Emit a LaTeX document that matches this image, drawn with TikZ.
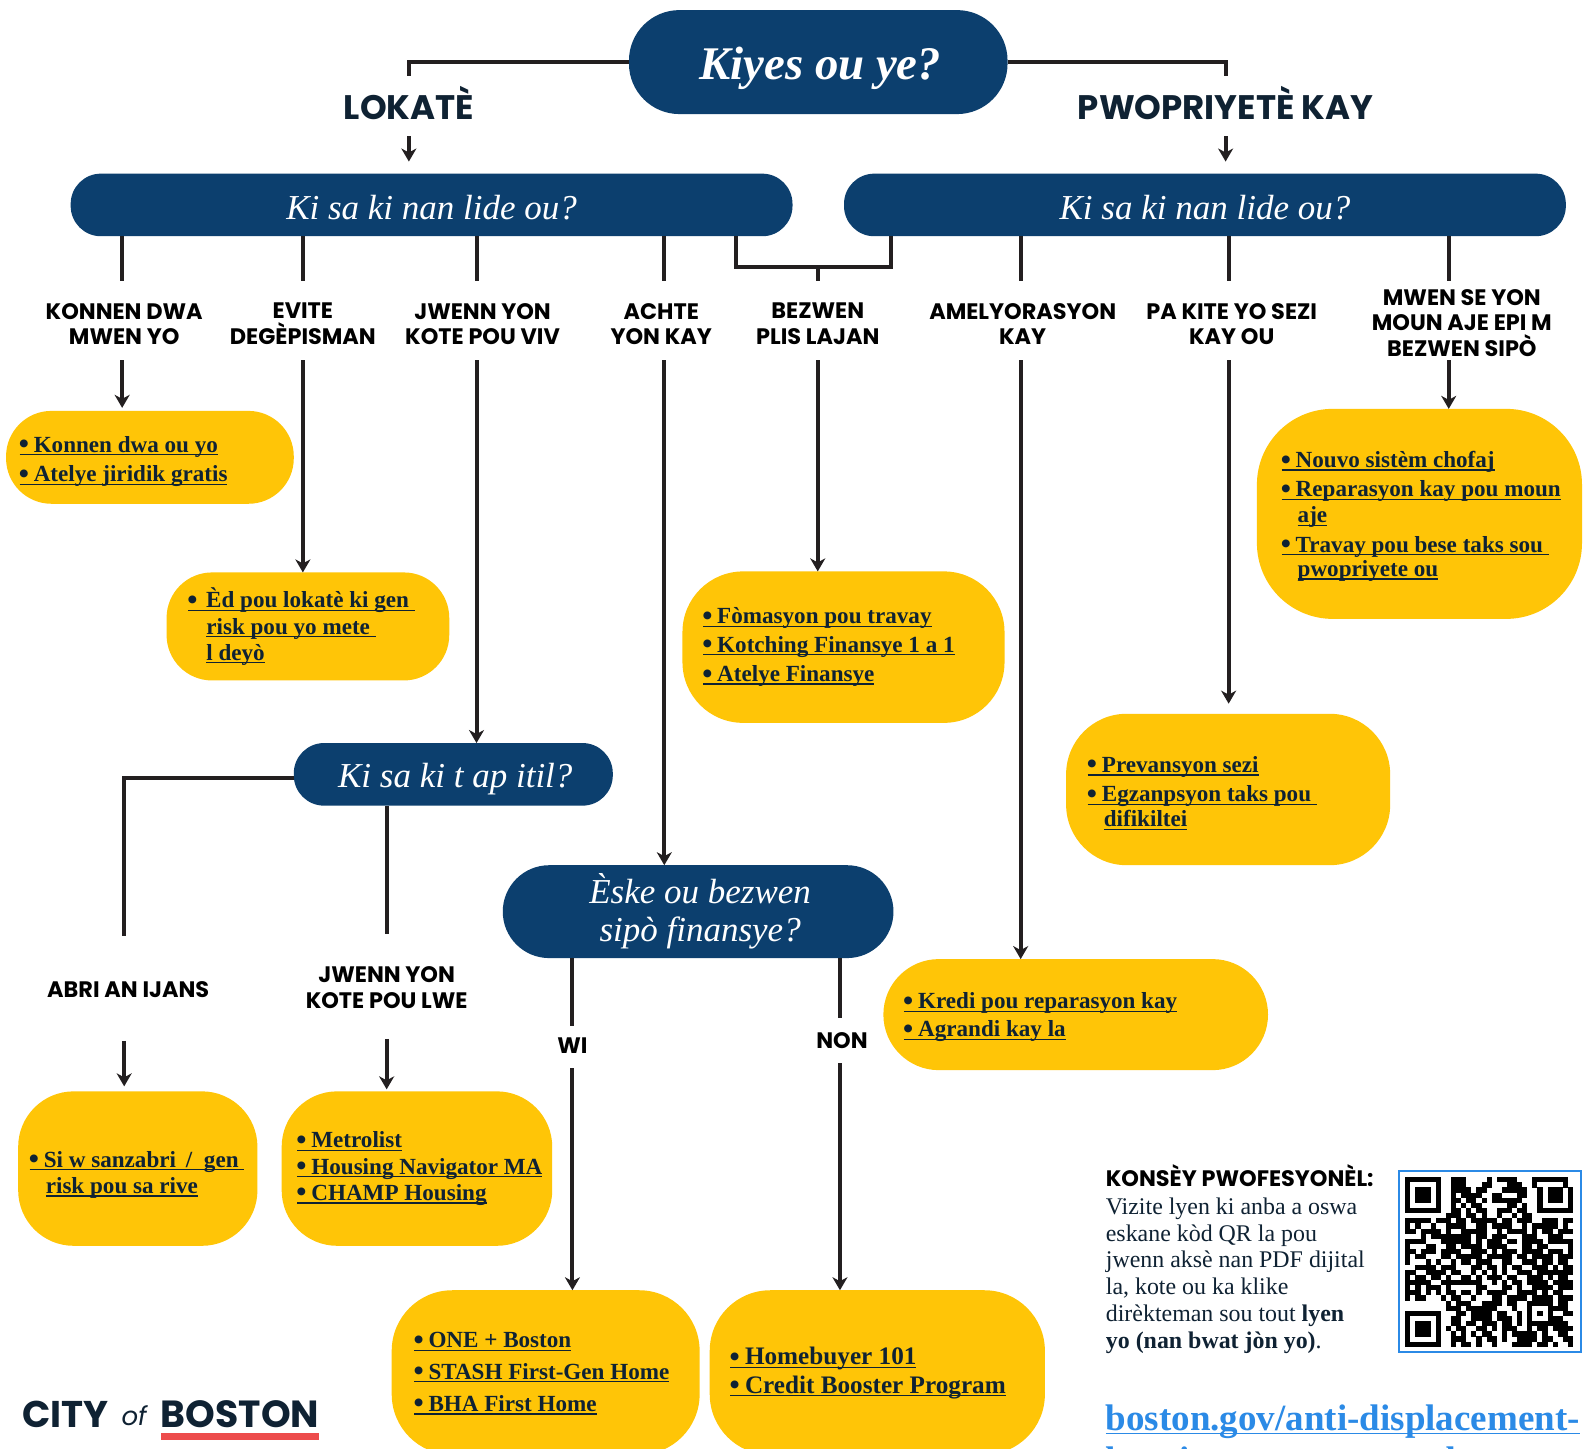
\documentclass[tikz,border=0pt]{standalone}
\usepackage{fontspec}
\setmainfont{Liberation Serif}
\newfontfamily\labf{Poppins}
\usetikzlibrary{arrows.meta}
\definecolor{navy}{HTML}{0C3F6E}
\definecolor{gold}{HTML}{FFC507}
\definecolor{ink}{HTML}{0F2233}
\definecolor{wire}{HTML}{231F20}
\definecolor{linkblue}{HTML}{2B8AE6}
\definecolor{logored}{HTML}{ED4C4C}
\newcommand\ulx[1]{\leavevmode\setbox0=\hbox{#1}\rlap{\rule[-1.6pt]{\wd0}{0.6pt}}\box0}
\newcommand\bigbul{\makebox[4.2pt][l]{\fontsize{14.5pt}{14.5pt}\selectfont\raisebox{-0.8pt}[0pt][0pt]{\kern-0.4pt\textbullet}}}
\newcommand\bul[1]{\ulx{\bigbul\ #1}}
\newcommand\low[2]{\raisebox{-#1}[0pt][0pt]{#2}}
\tikzset{
  x=0.5048pt,y=-0.5048pt,
  wireline/.style={draw=wire,line width=2pt},
  arr/.style={wireline,-{Stealth[length=6.5pt,width=7.5pt,inset=2pt]}},
  navybox/.style={fill=navy,text=white,align=center,inner sep=0pt,outer sep=0pt,font=\itshape\fontsize{17.5pt}{19pt}\selectfont},
  goldbox/.style={fill=gold,inner sep=0pt,outer sep=0pt},
  lab/.style={text=black,align=center,inner sep=0pt,font=\labf\bfseries\fontsize{11.2pt}{12.9pt}\selectfont},
  biglab/.style={text=ink,inner sep=0pt,font=\labf\bfseries\fontsize{17pt}{18pt}\selectfont},
  item/.style={anchor=base west,text=ink,inner sep=0pt,font=\bfseries\fontsize{11.55pt}{13pt}\selectfont},
  itemb/.style={item,font=\bfseries\fontsize{12.6pt}{13pt}\selectfont},
}
\newcommand\bx[8]{%
  \pgfmathsetmacro\cxx{(#3+#5)/2}\pgfmathsetmacro\cyy{(#4+#6)/2}%
  \pgfmathsetmacro\wdd{(#5-#3)*0.5048}\pgfmathsetmacro\htt{(#6-#4)*0.5048}%
  \pgfmathsetmacro\rdd{#7*0.5048}%
  \node[#1,minimum width=\wdd pt,minimum height=\htt pt,rounded corners=\rdd pt] (#2) at (\cxx,\cyy) {#8};}
\newcount\qx \newcount\qy
\def\qrline#1{\qx=0 \qrchar#1\relax\advance\qy by 1 }
\def\qrchar#1{\ifx#1\relax\else\ifx#1X\fill[black] (1392+\the\qx*5.03,1166+\the\qy*5.09) rectangle ++(5.1,5.15);\fi\advance\qx by 1 \expandafter\qrchar\fi}
\begin{document}
\begin{tikzpicture}
\useasboundingbox (0,0) rectangle (1568,1434.3);
\fill[white] (0,0) rectangle (1568,1434.3);
% navy boxes
\bx{navybox}{top}{623}{10}{998}{113}{50}{\low{8.5pt}{\hspace{2pt}\bfseries\fontsize{23.4pt}{25pt}\selectfont Kiyes ou ye?}}
\bx{navybox}{barL}{70}{172}{785}{234}{30}{\low{7.2pt}{Ki sa ki nan lide ou?}}
\bx{navybox}{barR}{836}{172}{1551}{234}{30}{\low{7.2pt}{Ki sa ki nan lide ou?}}
\bx{navybox}{itil}{291}{736}{607}{798}{30}{\low{6.5pt}{\hspace{2pt}Ki sa ki t ap itil?}}
\bx{navybox}{eske}{498}{857}{885}{949}{46}{\hspace{2pt}Èske ou bezwen\\\hspace{2pt}sipò finansye?}
% gold boxes
\bx{goldbox}{yA}{6}{407}{291}{499}{45}{}
\bx{goldbox}{yB}{165}{567}{445}{674}{45}{}
\bx{goldbox}{yC}{1245}{405}{1567}{613}{75}{}
\bx{goldbox}{yD}{676}{566}{995}{716}{60}{}
\bx{goldbox}{yE}{1056}{707}{1377}{857}{60}{}
\bx{goldbox}{yF}{875}{950}{1256}{1060}{55}{}
\bx{goldbox}{yG}{18}{1081}{255}{1234}{55}{}
\bx{goldbox}{yH}{279}{1081}{547}{1234}{55}{}
\bx{goldbox}{yI}{388}{1278}{693}{1441}{60}{}
\bx{goldbox}{yJ}{703}{1278}{1035}{1441}{60}{}
% headline labels
\node[biglab] (lok) at (405,102) {LOKATÈ};
\node[biglab] (pwo) at (1214,102) {PWOPRIYETÈ KAY};
\coordinate (lokT) at (405,75);
\coordinate (pwoT) at (1214,75);
\coordinate (lokB) at (405,135);
\coordinate (pwoB) at (1214,135);
\draw[wireline] (top.west) -| (lokT);
\draw[wireline] (top.east) -| (pwoT);
\draw[arr] (lokB) -- (405,160);
\draw[arr] (pwoB) -- (1214,160);
% option labels
\node[lab] (l1) at (123,321) {KONNEN DWA\\MWEN YO};
\node[lab] (l2) at (300,321) {EVITE\\DEGÈPISMAN};
\node[lab] (l3) at (478,321) {JWENN YON\\KOTE POU VIV};
\node[lab] (l4) at (655,321) {ACHTE\\YON KAY};
\node[lab] (l5) at (810,321) {BEZWEN\\PLIS LAJAN};
\node[lab] (l6) at (1013,321) {AMELYORASYON\\KAY};
\node[lab] (l7) at (1220,321) {PA KITE YO SEZI\\KAY OU};
\node[lab] (l8) at (1448,320) {MWEN SE YON\\MOUN AJE EPI M\\BEZWEN SIPÒ};
\node[lab] (l9) at (127,980) {ABRI AN IJANS};
\node[lab] (l10) at (383,978) {JWENN YON\\KOTE POU LWE};
\node[lab] (wi) at (567,1036) {WI};
\node[lab] (non) at (834,1031) {NON};
% drops from bars
\foreach \n/\xx/\bar in {d1/121/barL,d2/300/barL,d3/472/barL,d4/658/barL,d6/1011/barR,d7/1217/barR,d8/1435/barR}{
  \coordinate (\n) at (\xx,278);
  \draw[wireline] (\n |- \bar.south) -- (\n);
}
\coordinate (mL) at (729,264);
\coordinate (mR) at (883,264);
\coordinate (mM) at (810,264);
\coordinate (d5) at (810,278);
\draw[wireline] (mL |- barL.south) -- (mL) -- (mR) -- (mR |- barR.south);
\draw[wireline] (mM) -- (d5);
% arrows to answers
\foreach \n/\xx/\tgt/\gap in {a1/121/yA/3,a2/300/yB/0,a3/472/itil/0,a4/658/eske/0,a5/810/yD/0,a6/1011/yF/0,a7/1217/yE/10,a8/1435/yC/0}{
  \coordinate (\n) at (\xx,357);
  \draw[arr,shorten >=\gap*0.5048pt] (\n) -- (\n |- \tgt.north);
}
% second level
\coordinate (abT) at (123,927);
\coordinate (jwT) at (383,925);
\coordinate (abB) at (123,1031);
\coordinate (jwB) at (383,1029);
\coordinate (itilL) at (291,771);
\draw[wireline] (itilL) -| (abT);
\draw[wireline] (jwT |- itil.south) -- (jwT);
\draw[arr,shorten >=2.5pt] (abB) -- (abB |- yG.north);
\draw[arr,shorten >=1pt] (jwB) -- (jwB |- yH.north);
\coordinate (wiT) at (567,1016);
\coordinate (wiB) at (567,1058);
\coordinate (noT) at (832,1008);
\coordinate (noB) at (832,1053);
\draw[wireline] (wiT |- eske.south) -- (wiT);
\draw[wireline] (noT |- eske.south) -- (noT);
\draw[arr] (wiB) -- (wiB |- yI.north);
\draw[arr] (noB) -- (noB |- yJ.north);
% list items
\node[item] (t1) at (19,448) {\bul{Konnen dwa ou yo}};
\node[item] (t2) at (19,477) {\bul{Atelye jiridik gratis}};
\node[item] (t3) at (186,602) {\bul{\,Èd pou lokatè ki gen\ }};
\node[item] (t4) at (204,628) {\ulx{risk pou yo mete\ }};
\node[item] (t5) at (204,654) {\ulx{l deyò}};
\node[item] (t6) at (1269,463) {\bul{Nouvo sistèm chofaj}};
\node[item] (t7) at (1269,492) {\bul{Reparasyon kay pou moun}};
\node[item] (t8) at (1285,518) {\ulx{aje}};
\node[item] (t9) at (1269,547) {\bul{Travay pou bese taks sou\ }};
\node[item] (t10) at (1285,571) {\ulx{pwopriyete ou}};
\node[item] (t11) at (696,618) {\bul{Fòmasyon pou travay}};
\node[item] (t12) at (696,646) {\bul{Kotching Finansye 1 a 1}};
\node[item] (t13) at (696,675) {\bul{Atelye Finansye}};
\node[item] (t14) at (1077,765) {\bul{Prevansyon sezi}};
\node[item] (t15) at (1077,794) {\bul{Egzanpsyon taks pou\ }};
\node[item] (t16) at (1093,819) {\ulx{difikiltei}};
\node[item] (t17) at (895,999) {\bul{Kredi pou reparasyon kay}};
\node[item] (t18) at (895,1027) {\bul{Agrandi kay la}};
\node[item] (t19) at (29,1156) {\bul{Si w sanzabri\kern2pt\ /\kern3pt\ gen\ }};
\node[item] (t20) at (45,1182) {\ulx{risk pou sa rive}};
\node[item] (t21) at (294,1137) {\bul{Metrolist}};
\node[item] (t22) at (294,1163) {\bul{Housing Navigator MA}};
\node[item] (t23) at (294,1189) {\bul{CHAMP Housing}};
\node[item] (t24) at (410,1335) {\bul{ONE + Boston}};
\node[item] (t25) at (410,1366) {\bul{STASH First-Gen Home}};
\node[item] (t26) at (410,1398) {\bul{BHA First Home}};
\node[itemb] (t27) at (723,1352) {\bul{Homebuyer 101}};
\node[itemb] (t28) at (723,1380) {\bul{Credit Booster Program}};
% advice text
\node[anchor=base west,inner sep=0pt,text=black,font=\labf\bfseries\fontsize{11.2pt}{12pt}\selectfont] (adv) at (1095,1175) {KONSÈY PWOFESYONÈL:};
\node[anchor=north west,inner sep=0pt,text=ink,align=left,font=\fontsize{11.95pt}{13.38pt}\selectfont] (advtxt) at (1095,1186) {Vizite lyen ki anba a oswa\\eskane kòd QR la pou\\jwenn aksè nan PDF dijital\\la, kote ou ka klike\\dirèkteman sou tout \textbf{lyen}\\\textbf{yo (nan bwat jòn yo)}.};
% link
\node[anchor=base west,inner sep=0pt,text=linkblue,font=\bfseries\fontsize{18.5pt}{21pt}\selectfont] (lnk) at (1095,1417) {\ulx{boston.gov/anti-displacement-}};
\node[anchor=base west,inner sep=0pt,text=linkblue,font=\bfseries\fontsize{18.5pt}{21pt}\selectfont] (lnk2) at (1095,1459) {housing-tenure-care-dt};
% QR
\node[draw=linkblue,line width=1pt,fill=white,inner sep=0pt,minimum width=90.9pt,minimum height=90.9pt] (qr) at (1476,1249.5) {};
\qy=0
\qrline{XXXXXXX..XXX....X.XXXX...XXXXXXX}
\qrline{X.....X..XXX...XX...XXX..X.....X}
\qrline{X.XXX.X..XXXX.XX...XXXXX..X.XXX.X}
\qrline{X.XXX.X..X.XXXX..XX...XX..X.XXX.X}
\qrline{X.XXX.X..XX.XX.X.XXXXXX...X.XXX.X}
\qrline{X.....X..X.X.XX.....XX.X..X.....X}
\qrline{XXXXXXX..XX.X.XX..XXX.XX..XXXXXXX}
\qrline{........XXX.XX.X..X..X.XX........}
\qrline{XXXXX.XXX.XX.XXXXX.XX.XXX..XXX.XX}
\qrline{X.X..X..XXXX..XX.XXXX..X.XXXXX.X.}
\qrline{XX.XXXX.X..XXXXX..X.XXXX.X.XX.XXX}
\qrline{...X.XXXXXXXX.XX.XXX...XXX..XXX..}
\qrline{XXXX...XXXXXX.X.XXX.XX.XXXX.XXXXX}
\qrline{X...XX..XX.XXXX.XXXX...XX.XX....X}
\qrline{XX.XXX.XXXX..XXX.X.XXX.XXXX.XXX.X}
\qrline{X.XX...XX.XXXXX.XXXXX.XX.XXXX.XXX}
\qrline{X...X.X..X.XX.XXX..XX..XXX.XX.XX.}
\qrline{..XXXX.XXX...XX.XX.X.XX..XXX.X.XX}
\qrline{XX..XXXX.XX..X.X.X.X..XXX.XXXXXXX}
\qrline{X.XX.XX.X..XX.X.XXX.XX..XXX.X.XX.}
\qrline{XXXXX..XXXXXXXX..X.X.XX.XXXX.XXXX}
\qrline{X.X.XXX.X.....XX...XX.X..XXXX.XXX}
\qrline{XXX.X.X.XX.XX.X.XXXX..XXXX.X.XX..}
\qrline{X.XX...X.XX..X...XX.XXXX.XXXX.XXX}
\qrline{........X.XXX..XXXX.XX..XXXXX.XX.}
\qrline{........XXX.XXXXXX...X..X...XXXX.}
\qrline{XXXXXXX...XX.XXXX.XX..X.X.X.X..XX}
\qrline{X.....X..XX..XXXX.XXX.X.X...XXX..}
\qrline{X.XXX.X..XX.XX.XXX.XX.X.XXXXXXXX.}
\qrline{X.XXX.X.X.XX..XX.X.XXX..X.XX.XXXX}
\qrline{X.XXX.X..X.X.X.XX..X.XXXXX.X..XX.}
\qrline{X.....X..XXX..X.XX.X..XXXX.XX..XX}
\qrline{XXXXXXX..X.XX.X..X...XXXX.XX.X..X}
% logo
\node[anchor=base west,inner sep=0pt,text=ink,font=\labf\bfseries\fontsize{18.6pt}{20pt}\selectfont] (city) at (22,1414) {CITY};
\node[anchor=base west,inner sep=0pt,text=ink,font=\labf\itshape\fontsize{13pt}{15pt}\selectfont] (of) at (120,1412) {of};
\node[anchor=base west,inner sep=0pt,text=ink,font=\labf\bfseries\fontsize{18.9pt}{20pt}\selectfont] (bos) at (159,1414) {BOSTON};
\fill[logored] (159,1419) rectangle (316,1426);
\end{tikzpicture}
\end{document}
